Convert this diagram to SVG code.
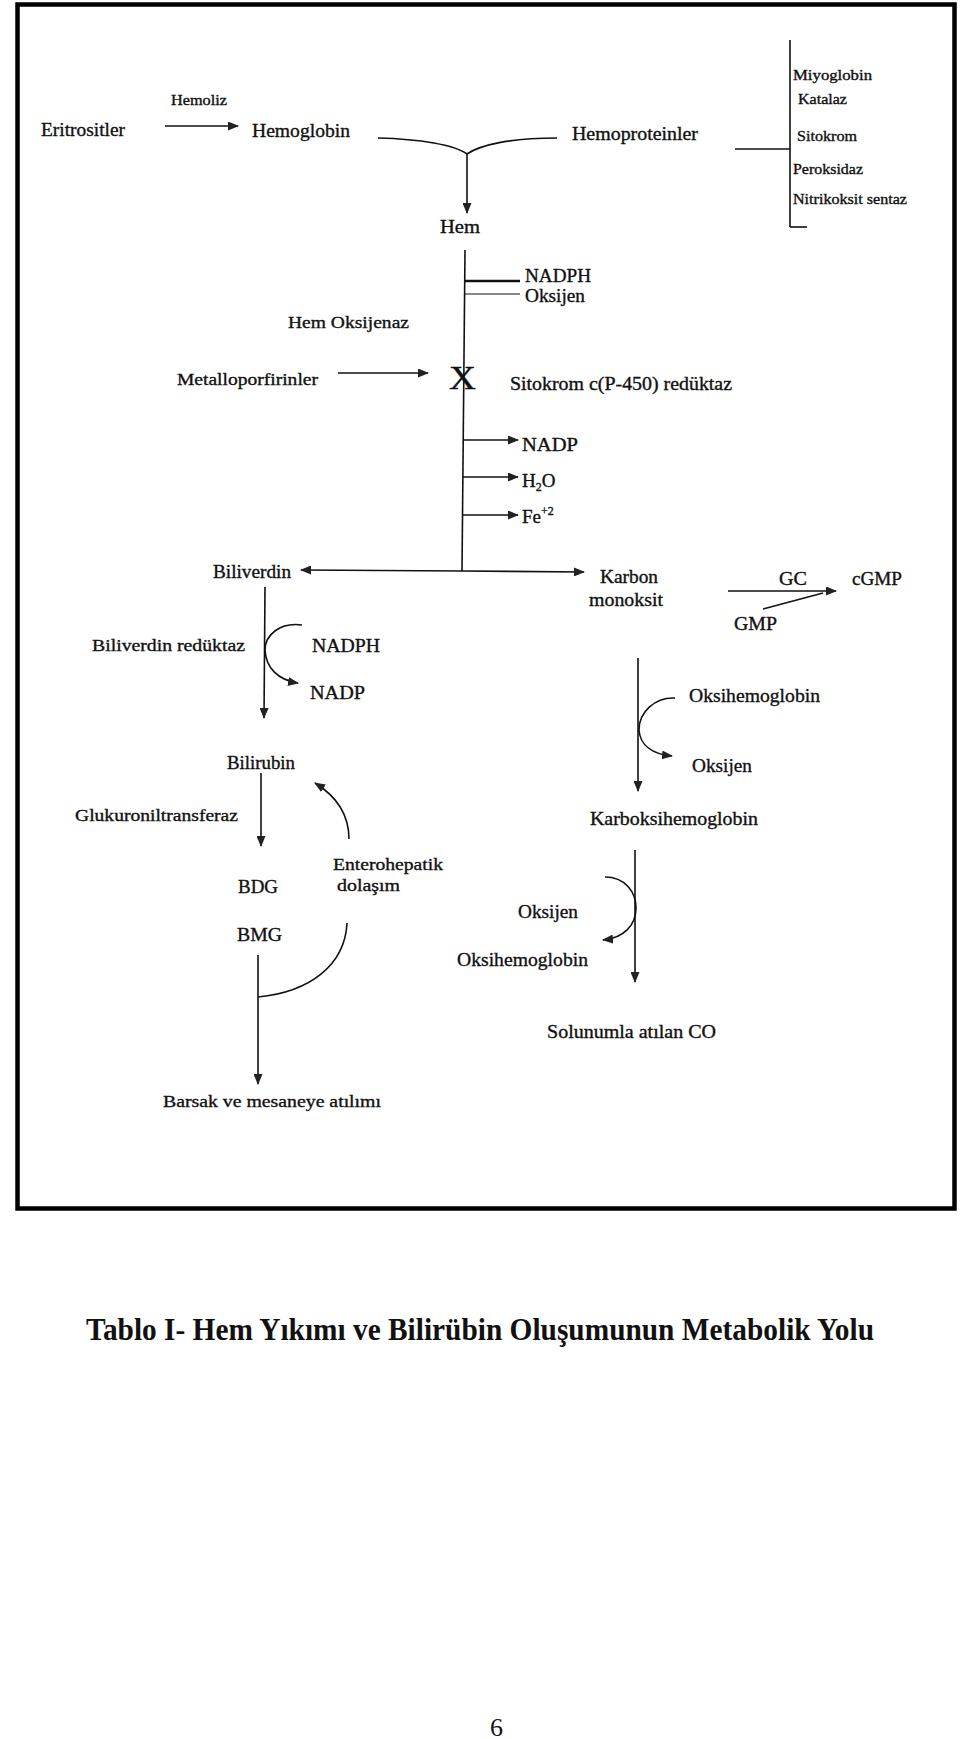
<svg xmlns="http://www.w3.org/2000/svg" width="960" height="1739" viewBox="0 0 960 1739">
<style>
text{font-family:"Liberation Serif","Times New Roman",serif;fill:#111;}
.d text{stroke:#111;stroke-width:0.35;}
.s14{font-size:14px;}
.s17{font-size:17px;}
.s18{font-size:18px;}
.s19{font-size:19px;}
.ln{fill:none;stroke:#111;stroke-width:1.6;}
.lt{fill:none;stroke:#111;stroke-width:1.2;}
</style>
<defs>
<marker id="ah" markerWidth="11" markerHeight="9" refX="10" refY="4.5" orient="auto" markerUnits="userSpaceOnUse">
<path d="M0,0 L11,4.5 L0,9 Z" fill="#222"/>
</marker>
</defs>
<rect x="0" y="0" width="960" height="1739" fill="#fff"/>
<rect id="frame" x="17.5" y="4.5" width="937" height="1204" fill="none" stroke="#000" stroke-width="4.5"/>

<g id="connectors">
<line class="ln" x1="165" y1="126" x2="238" y2="126" marker-end="url(#ah)"/>
<path class="ln" d="M378,138 C420,139 455,145 467,154"/>
<path class="ln" d="M467,154 C480,145 510,138 557,138"/>
<line class="ln" x1="467" y1="154" x2="467" y2="213" marker-end="url(#ah)"/>
<line class="ln" x1="735" y1="149" x2="790" y2="149"/>
<line class="ln" x1="790" y1="40" x2="790" y2="227"/>
<line class="ln" x1="790" y1="227" x2="807" y2="227"/>
<line class="ln" x1="465" y1="250" x2="462" y2="571"/>
<line x1="465" y1="281" x2="520" y2="281" stroke="#111" stroke-width="2.6"/>
<line class="lt" x1="465" y1="294" x2="520" y2="294"/>
<line class="ln" x1="338" y1="373" x2="428" y2="373" marker-end="url(#ah)"/>
<line class="ln" x1="463" y1="440" x2="518" y2="440" marker-end="url(#ah)"/>
<line class="ln" x1="463" y1="477" x2="518" y2="477" marker-end="url(#ah)"/>
<line class="ln" x1="463" y1="515" x2="518" y2="515" marker-end="url(#ah)"/>
<line class="ln" x1="462" y1="571" x2="301" y2="570" marker-end="url(#ah)"/>
<line class="ln" x1="462" y1="571" x2="584" y2="572" marker-end="url(#ah)"/>
<line class="ln" x1="265" y1="587" x2="264" y2="718" marker-end="url(#ah)"/>
<path class="ln" d="M302,625 C280,622 265,635 265,650 C266,668 278,680 298,683" marker-end="url(#ah)"/>
<line class="ln" x1="261" y1="773" x2="261" y2="846" marker-end="url(#ah)"/>
<path class="ln" d="M349,839 C349,815 336,796 315,783" marker-end="url(#ah)"/>
<line class="ln" x1="258" y1="955" x2="258" y2="1084" marker-end="url(#ah)"/>
<path class="ln" d="M347,923 C345,965 310,992 258,997"/>
<line class="ln" x1="728" y1="591" x2="836" y2="591" marker-end="url(#ah)"/>
<line class="ln" x1="763" y1="609" x2="823" y2="593"/>
<line class="ln" x1="638" y1="658" x2="638" y2="791" marker-end="url(#ah)"/>
<path class="ln" d="M675,698 C655,697 639,712 639,730 C640,745 652,754 672,756" marker-end="url(#ah)"/>
<line class="ln" x1="635" y1="850" x2="635" y2="982" marker-end="url(#ah)"/>
<path class="ln" d="M605,877 C625,877 636,892 636,908 C636,925 624,938 603,940" marker-end="url(#ah)"/>
</g>

<g class="d">
<g id="n-hemoliz"><text class="s14" x="171" y="105" textLength="56" lengthAdjust="spacingAndGlyphs">Hemoliz</text></g>
<g id="n-eritrositler"><text class="s19" x="41" y="136" textLength="84" lengthAdjust="spacingAndGlyphs">Eritrositler</text></g>
<g id="n-hemoglobin"><text class="s19" x="252" y="137" textLength="98" lengthAdjust="spacingAndGlyphs">Hemoglobin</text></g>
<g id="n-hemoproteinler"><text class="s19" x="572" y="140" textLength="126" lengthAdjust="spacingAndGlyphs">Hemoproteinler</text></g>
<g id="n-list">
<text class="s14" x="793" y="80" textLength="79" lengthAdjust="spacingAndGlyphs">Miyoglobin</text>
<text class="s14" x="798" y="104" textLength="49" lengthAdjust="spacingAndGlyphs">Katalaz</text>
<text class="s14" x="797" y="141" textLength="60" lengthAdjust="spacingAndGlyphs">Sitokrom</text>
<text class="s14" x="793" y="174" textLength="70" lengthAdjust="spacingAndGlyphs">Peroksidaz</text>
<text class="s14" x="793" y="204" textLength="114" lengthAdjust="spacingAndGlyphs">Nitrikoksit sentaz</text>
</g>
<g id="n-hem"><text class="s18" x="440" y="233" textLength="40" lengthAdjust="spacingAndGlyphs">Hem</text></g>
<g id="n-nadph1"><text class="s19" x="525" y="282" textLength="66" lengthAdjust="spacingAndGlyphs">NADPH</text></g>
<g id="n-oksijen1"><text class="s19" x="525" y="302" textLength="60" lengthAdjust="spacingAndGlyphs">Oksijen</text></g>
<g id="n-hemoksijenaz"><text class="s17" x="288" y="328" textLength="121" lengthAdjust="spacingAndGlyphs">Hem Oksijenaz</text></g>
<g id="n-metallo"><text class="s17" x="177" y="385" textLength="141" lengthAdjust="spacingAndGlyphs">Metalloporfirinler</text></g>
<g id="n-x"><text x="449" y="389" style="font-size:33px" textLength="27" lengthAdjust="spacingAndGlyphs">X</text></g>
<g id="n-sitokrom"><text class="s18" x="510" y="390" textLength="222" lengthAdjust="spacingAndGlyphs">Sitokrom c(P-450) redüktaz</text></g>
<g id="n-nadp1"><text class="s19" x="522" y="451" textLength="56" lengthAdjust="spacingAndGlyphs">NADP</text></g>
<g id="n-h2o"><text class="s19" x="522" y="487">H<tspan style="font-size:12px" dy="4">2</tspan><tspan dy="-4">O</tspan></text></g>
<g id="n-fe"><text class="s19" x="522" y="523">Fe<tspan style="font-size:12px" dy="-8">+2</tspan></text></g>
<g id="n-biliverdin"><text class="s18" x="213" y="578" textLength="78" lengthAdjust="spacingAndGlyphs">Biliverdin</text></g>
<g id="n-karbon"><text class="s18" x="600" y="583" textLength="58" lengthAdjust="spacingAndGlyphs">Karbon</text><text class="s18" x="589" y="606" textLength="74" lengthAdjust="spacingAndGlyphs">monoksit</text></g>
<g id="n-gc"><text class="s19" x="779" y="585" textLength="28" lengthAdjust="spacingAndGlyphs">GC</text></g>
<g id="n-cgmp"><text class="s19" x="852" y="585" textLength="50" lengthAdjust="spacingAndGlyphs">cGMP</text></g>
<g id="n-gmp"><text class="s19" x="734" y="630" textLength="43" lengthAdjust="spacingAndGlyphs">GMP</text></g>
<g id="n-bilred"><text class="s17" x="92" y="651" textLength="153" lengthAdjust="spacingAndGlyphs">Biliverdin redüktaz</text></g>
<g id="n-nadph2"><text class="s19" x="312" y="652" textLength="68" lengthAdjust="spacingAndGlyphs">NADPH</text></g>
<g id="n-nadp2"><text class="s19" x="310" y="699" textLength="55" lengthAdjust="spacingAndGlyphs">NADP</text></g>
<g id="n-oksihem1"><text class="s19" x="689" y="702" textLength="131" lengthAdjust="spacingAndGlyphs">Oksihemoglobin</text></g>
<g id="n-oksijen2"><text class="s19" x="692" y="772" textLength="60" lengthAdjust="spacingAndGlyphs">Oksijen</text></g>
<g id="n-bilirubin"><text class="s18" x="227" y="769" textLength="68" lengthAdjust="spacingAndGlyphs">Bilirubin</text></g>
<g id="n-glukuronil"><text class="s17" x="75" y="821" textLength="163" lengthAdjust="spacingAndGlyphs">Glukuroniltransferaz</text></g>
<g id="n-karboksihem"><text class="s18" x="590" y="825" textLength="168" lengthAdjust="spacingAndGlyphs">Karboksihemoglobin</text></g>
<g id="n-entero"><text class="s17" x="333" y="870" textLength="110" lengthAdjust="spacingAndGlyphs">Enterohepatik</text><text class="s17" x="337" y="891" textLength="63" lengthAdjust="spacingAndGlyphs">dolaşım</text></g>
<g id="n-bdg"><text class="s19" x="238" y="893" textLength="40" lengthAdjust="spacingAndGlyphs">BDG</text></g>
<g id="n-bmg"><text class="s19" x="237" y="941" textLength="45" lengthAdjust="spacingAndGlyphs">BMG</text></g>
<g id="n-oksijen3"><text class="s19" x="518" y="918" textLength="60" lengthAdjust="spacingAndGlyphs">Oksijen</text></g>
<g id="n-oksihem2"><text class="s19" x="457" y="966" textLength="131" lengthAdjust="spacingAndGlyphs">Oksihemoglobin</text></g>
<g id="n-solunum"><text class="s18" x="547" y="1038" textLength="169" lengthAdjust="spacingAndGlyphs">Solunumla atılan CO</text></g>
<g id="n-barsak"><text class="s17" x="163" y="1107" textLength="218" lengthAdjust="spacingAndGlyphs">Barsak ve mesaneye atılımı</text></g>
</g>

<g id="title"><text x="86" y="1340" style="font-size:32px;font-weight:bold" textLength="788" lengthAdjust="spacingAndGlyphs">Tablo I- Hem Yıkımı ve Bilirübin Oluşumunun Metabolik Yolu</text></g>
<g id="pagenum"><text x="490" y="1736" style="font-size:26px">6</text></g>
</svg>
